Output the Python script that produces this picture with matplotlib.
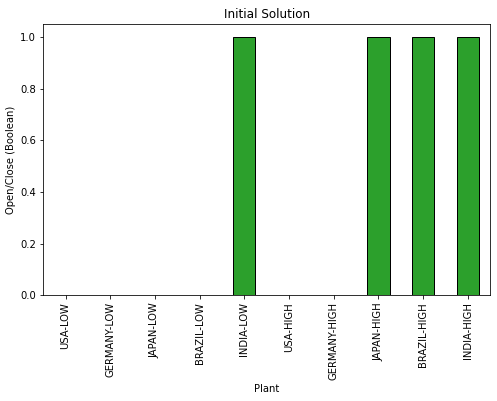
import matplotlib
matplotlib.use("Agg")
import matplotlib.pyplot as plt
import numpy as np

plants = ['USA-LOW', 'GERMANY-LOW', 'JAPAN-LOW', 'BRAZIL-LOW', 'INDIA-LOW',
          'USA-HIGH', 'GERMANY-HIGH', 'JAPAN-HIGH', 'BRAZIL-HIGH', 'INDIA-HIGH']
open_close = [0, 0, 0, 0, 1, 0, 0, 1, 1, 1]

fig = plt.figure(figsize=(497 / 72, 401 / 72), dpi=72)
ax = fig.add_axes([0.087, 0.264, 0.899, 0.676])

x = np.arange(len(plants))
ax.bar(x, open_close, width=0.5, color='#2ca02c', edgecolor='black')
ax.set_xticks(x)
ax.set_xticklabels(plants, rotation=90)
ax.set_xlim(-0.5, len(plants) - 0.5)
ax.set_ylim(0, 1.05)
ax.set_title('Initial Solution')
ax.set_xlabel('Plant')
ax.set_ylabel('Open/Close (Boolean)')

fig.savefig('out.png', dpi=72)
